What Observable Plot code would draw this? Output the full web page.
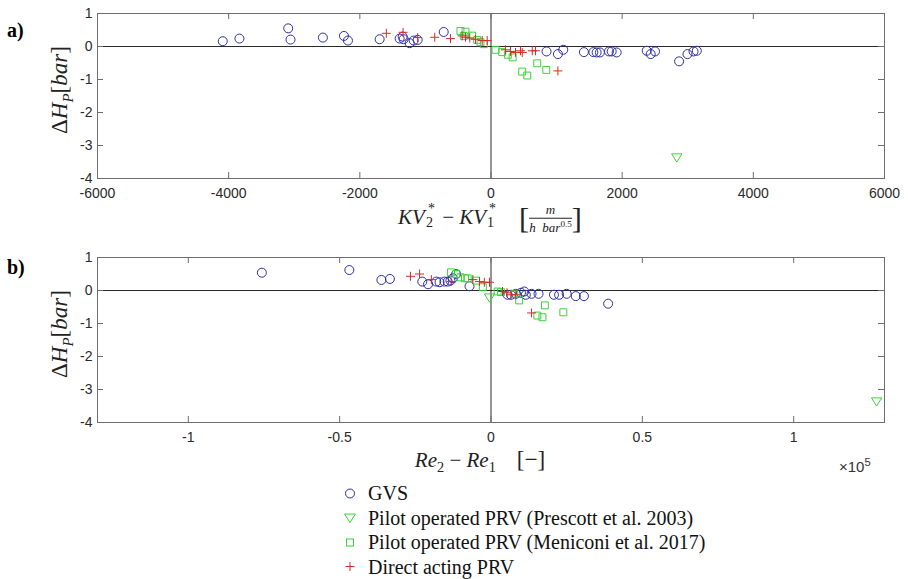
<!DOCTYPE html>
<html><head><meta charset="utf-8">
<script src="https://cdn.jsdelivr.net/npm/d3@7"></script>
<script src="https://cdn.jsdelivr.net/npm/@observablehq/plot@0.6"></script>
<style>
body{margin:0;background:#fff}
#wrap{position:relative;width:908px;height:579px;overflow:hidden;background:#fff}
#wrap svg.plot{position:absolute;left:0}
.lbl{position:absolute;transform:translate(-50%,-50%);white-space:nowrap;font-family:'Liberation Serif','Times New Roman',serif;color:#222;line-height:1.2}
.ss{position:relative;display:inline-block;width:9px;height:21px;font-style:normal;margin-left:3px}
.ss .sp{position:absolute;left:0;top:-1px;font-size:14px;line-height:13px}
.ss .sb{position:absolute;left:-2px;top:13px;font-size:14px;line-height:13px}
.frac{display:inline-block;font-size:0.62em;text-align:center;vertical-align:middle;line-height:1.15}
.frac span{display:block}
.frac span:first-child{border-bottom:1px solid #222;padding:0 2px}
.br{font-size:1.45em;vertical-align:-0.12em;font-weight:300}
.tag{position:absolute;font-family:'Liberation Serif',serif;font-weight:bold;font-size:20px;color:#000}
.leg{position:absolute;left:340px;display:flex;align-items:center;font-family:'Liberation Serif',serif;font-size:20px;color:#111;transform:translateY(-50%);white-space:nowrap}
.leg svg{margin-right:8px}
</style></head><body><div id="wrap"></div>
<script>
// ---- Panel a) : KV2* - KV1*  vs  ΔH_P [bar]
const kvGVS = [-4090,-3836,-3092,-3057,-2563,-2242,-2181,-1698,-1393,-1347,-1332,-1240,-1179,-1118,-721,847,1020,1102,1417,1561,1611,1661,1799,1840,1916,2374,2435,2501,2868,2996,3088,3138];
const dhGVS_a = [0.16,0.24,0.55,0.21,0.27,0.32,0.18,0.22,0.24,0.30,0.22,0.10,0.18,0.20,0.44,-0.15,-0.23,-0.10,-0.17,-0.17,-0.18,-0.18,-0.15,-0.15,-0.18,-0.13,-0.23,-0.15,-0.45,-0.23,-0.15,-0.13];
const kvPrescott = [2833];
const dhPrescott_a = [-3.35];
const kvMeniconi = [-466,-389,-415,-287,-211,-160,-110,69,171,257,330,476,553,705,843];
const dhMeniconi_a = [0.47,0.45,0.32,0.33,0.20,0.13,0.07,-0.10,-0.17,-0.25,-0.33,-0.76,-0.88,-0.51,-0.71];
const kvDirect = [-1596,-1341,-1118,-858,-618,-440,-390,-324,-237,-134,-58,221,298,374,450,476,629,679,1020];
const dhDirect_a = [0.40,0.43,0.27,0.28,0.24,0.32,0.28,0.26,0.22,0.18,0.18,-0.10,-0.15,-0.18,-0.13,-0.18,-0.13,-0.13,-0.74];

// ---- Panel b) : Re2 - Re1  vs  ΔH_P [bar]
const reGVS = [-75700,-46800,-36200,-33400,-22700,-20800,-18100,-17000,-15400,-14300,-13400,-12600,-11500,-7100,5500,6600,8200,9900,11000,11500,13400,15700,20800,22500,25000,28000,30700,38700];
const dhGVS_b = [0.54,0.62,0.32,0.35,0.27,0.19,0.27,0.25,0.27,0.27,0.30,0.37,0.50,0.13,-0.13,-0.13,-0.10,-0.07,-0.03,-0.13,-0.10,-0.10,-0.13,-0.13,-0.10,-0.17,-0.17,-0.40];
const rePrescott = [-500,127400];
const dhPrescott_b = [-0.20,-3.35];
const reMeniconi = [-13200,-11500,-10100,-8600,-7700,-4900,-2700,2200,3300,7700,9300,15300,17000,17800,23900];
const dhMeniconi_b = [0.55,0.50,0.40,0.37,0.37,0.30,0.10,-0.03,-0.05,-0.10,-0.30,-0.76,-0.81,-0.45,-0.66];
const reDirect = [-26600,-23600,-19700,-13200,-6000,-3800,-2200,-500,3800,5300,6600,8200,13400];
const dhDirect_b = [0.43,0.50,0.33,0.27,0.33,0.27,0.25,0.25,-0.03,-0.07,-0.13,-0.13,-0.68];

// ---- axes
const yTicks = [-4,-3,-2,-1,0,1];
const xTicksA = [-6000,-4000,-2000,0,2000,4000,6000];
const xTicksB = [-100000,-50000,0,50000,100000];
const xDomainA = [-6000,6000];
const xDomainB = [-130000,130000];

const seriesNames = ["GVS","Pilot operated PRV (Prescott et al. 2003)","Pilot operated PRV (Meniconi et al. 2017)","Direct acting PRV"];
const colBlue = "#2e2ea8", colGreen = "#3ad43a", colRed = "#d42a2a";

const triDown = {draw(ctx, size){const r=Math.sqrt(size/Math.PI); const h=r*1.12; ctx.moveTo(-h,-h*0.62); ctx.lineTo(h,-h*0.62); ctx.lineTo(0,h*0.98); ctx.closePath();}};

const pts = (xs, ys) => xs.map((x,i)=>({x, y: ys[i]}));

function panel(xd, xt, fmt, gvs, pres, men, dir){
  const W=908,H=200,mt=13,mb=22,ml=97,mr=24;
  const xLen = (xd[1]-xd[0]) * 6/(W-ml-mr);
  const yLen = 5 * 6/(H-mt-mb);
  const tc = "#6e6e6e";
  return Plot.plot({
    width:W, height:H, marginTop:mt, marginBottom:mb, marginLeft:ml, marginRight:mr,
    x:{domain:xd}, y:{domain:[-4,1]},
    style:{fontFamily:"'Liberation Sans', Arial, sans-serif", fontSize:"14px", color:"#2a2a2a", background:"transparent", overflow:"visible"},
    marks:[
      Plot.ruleX([0],{stroke:"#2a2a2a",strokeWidth:1}),
      Plot.ruleY([0],{stroke:"#2a2a2a",strokeWidth:1}),
      Plot.ruleX(xt,{y1:-4,y2:-4+yLen,stroke:tc}),
      Plot.ruleX(xt,{y1:1,y2:1-yLen,stroke:tc}),
      Plot.ruleY(yTicks,{x1:xd[0],x2:xd[0]+xLen,stroke:tc}),
      Plot.ruleY(yTicks,{x1:xd[1],x2:xd[1]-xLen,stroke:tc}),
      Plot.frame({stroke:tc}),
      Plot.axisX(xt,{tickSize:0,tickPadding:10,tickFormat:fmt,label:null,fontSize:14}),
      Plot.axisY(yTicks,{tickSize:0,tickPadding:5,tickFormat:d=>String(d),label:null,fontSize:14}),
      Plot.dot(gvs,{x:"x",y:"y",symbol:"circle",r:4.5,stroke:colBlue,fill:"none",strokeWidth:1}),
      Plot.dot(men,{x:"x",y:"y",symbol:"square",r:3.9,stroke:colGreen,fill:"none",strokeWidth:1}),
      Plot.dot(pres,{x:"x",y:"y",symbol:triDown,r:4.6,stroke:colGreen,fill:"none",strokeWidth:1}),
      Plot.dot(dir,{x:"x",y:"y",symbol:"plus",r:3.0,stroke:colRed,fill:"none",strokeWidth:1})
    ]
  });
}

const wrap = document.getElementById("wrap");
const pa = panel(xDomainA, xTicksA, d=>String(d),
  pts(kvGVS,dhGVS_a), pts(kvPrescott,dhPrescott_a), pts(kvMeniconi,dhMeniconi_a), pts(kvDirect,dhDirect_a));
pa.classList.add("plot"); pa.style.top = "0px";
const pb = panel(xDomainB, xTicksB, d=>String(d/1e5),
  pts(reGVS,dhGVS_b), pts(rePrescott,dhPrescott_b), pts(reMeniconi,dhMeniconi_b), pts(reDirect,dhDirect_b));
pb.classList.add("plot"); pb.style.top = "244px";
wrap.appendChild(pa); wrap.appendChild(pb);

function add(html){ const t=document.createElement("template"); t.innerHTML=html.trim(); const el=t.content.firstChild; wrap.appendChild(el); return el; }

add(`<div class="tag" style="left:7px;top:19px">a)</div>`);
add(`<div class="tag" style="left:7px;top:256px">b)</div>`);
const ylab = `<span>Δ</span><i>H</i><sub style="font-size:0.65em"><i>P</i></sub>[<i>bar</i>]`;
add(`<div class="lbl" style="left:62px;top:90px;font-size:23px;transform:translate(-50%,-50%) rotate(-90deg)">${ylab}</div>`);
add(`<div class="lbl" style="left:62px;top:334px;font-size:23px;transform:translate(-50%,-50%) rotate(-90deg)">${ylab}</div>`);
add(`<div class="lbl" style="left:490px;top:218px;font-size:21px"><i>KV</i><span class="ss"><span class="sp">*</span><span class="sb">2</span></span> − <i>KV</i><span class="ss"><span class="sp">*</span><span class="sb">1</span></span>&nbsp;&nbsp;&nbsp;&nbsp;<span class="br">[</span><span class="frac"><span><i>m</i></span><span><i>h</i>&nbsp;&nbsp;<i>bar</i><sup style="font-size:0.7em">0.5</sup></span></span><span class="br">]</span></div>`);
add(`<div class="lbl" style="left:480px;top:461px;font-size:21px"><i>Re</i><sub style="font-size:0.68em">2</sub> − <i>Re</i><sub style="font-size:0.68em">1</sub>&nbsp;&nbsp;&nbsp;&nbsp;<span style="font-size:1.1em">[−]</span></div>`);
add(`<div style="position:absolute;left:839px;top:456px;font-family:'Liberation Sans',Arial,sans-serif;font-size:15px;color:#333">×10<sup style="font-size:0.75em">5</sup></div>`);

const legIcons = [
  `<circle cx="10" cy="10" r="4.5" fill="none" stroke="${colBlue}"/>`,
  `<path d="M4.5,6.5 L15.5,6.5 L10,15 Z" fill="none" stroke="${colGreen}"/>`,
  `<rect x="6.5" y="6.5" width="7" height="7" fill="none" stroke="${colGreen}"/>`,
  `<path d="M10,5.5 V14.5 M5.5,10 H14.5" stroke="${colRed}"/>`
];
seriesNames.forEach((name,i)=>{
  add(`<div class="leg" style="top:${493+i*24.5}px"><svg width="20" height="20">${legIcons[i]}</svg><span>${name}</span></div>`);
});
</script></body></html>
